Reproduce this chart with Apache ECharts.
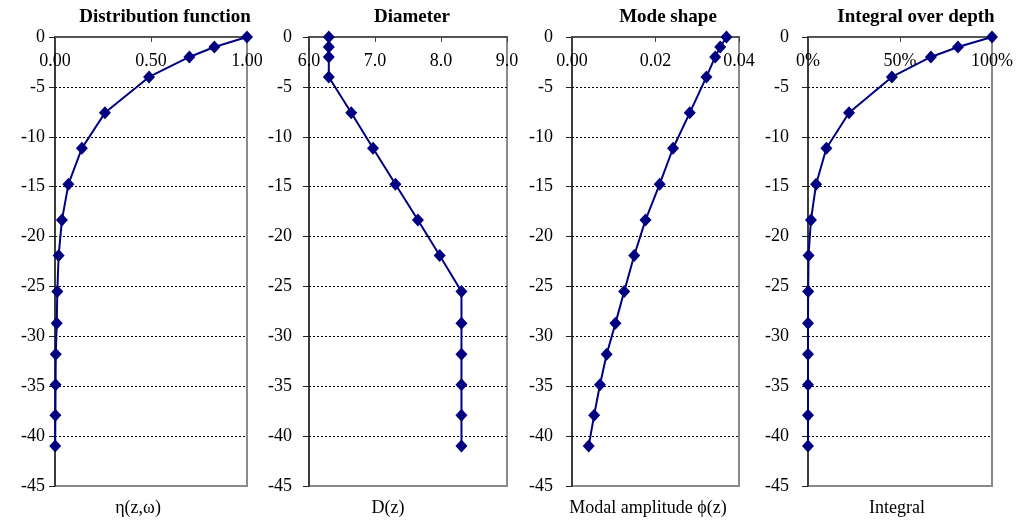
<!DOCTYPE html>
<html>
<head>
<meta charset="utf-8">
<script src="https://cdn.jsdelivr.net/npm/echarts@6/dist/echarts.min.js"></script>
<style>
html,body{margin:0;padding:0;background:#fff;}
#chart{width:1016px;height:522px;}
</style>
</head>
<body>
<div id="chart"></div>
<script>
// Data
var depth = [0, -1, -2, -4, -7.6, -11.15, -14.75, -18.35, -21.9, -25.5, -28.7, -31.8, -34.85, -37.9, -41];
var distribution = [1.0, 0.83, 0.70, 0.49, 0.26, 0.14, 0.07, 0.036, 0.019, 0.012, 0.009, 0.004, 0.003, 0.002, 0.001];
var diameter = [6.30, 6.30, 6.30, 6.30, 6.64, 6.97, 7.31, 7.65, 7.98, 8.31, 8.31, 8.31, 8.31, 8.31, 8.31];
var modeShape = [0.0370, 0.0355, 0.0343, 0.0322, 0.0282, 0.0242, 0.0210, 0.0176, 0.0149, 0.0125, 0.0104, 0.0083, 0.0067, 0.0053, 0.0040];
var integral = [1.0, 0.815, 0.668, 0.456, 0.223, 0.10, 0.044, 0.016, 0.003, 0.001, 0.0, 0.0, 0.0, 0.0, 0.0];

var panelTitles = ['Distribution function', 'Diameter', 'Mode shape', 'Integral over depth'];
var axisNames = ['\u03b7(z,\u03c9)', 'D(z)', 'Modal amplitude \u03d5(z)', 'Integral'];
var xMins = [0, 6, 0, 0];
var xMaxs = [1, 9, 0.04, 1];
var xIntervals = [0.5, 1, 0.02, 0.5];
var xFormatters = [
  function (v) { return v.toFixed(2); },
  function (v) { return v.toFixed(1); },
  function (v) { return v.toFixed(2); },
  function (v) { return Math.round(v * 100) + '%'; }
];
var yTicks = { min: -45, max: 0, interval: 5 };

// layout (pixels)
var grids = [
  { left: 55, top: 37, width: 192, height: 449 },
  { left: 309, top: 37, width: 198, height: 449 },
  { left: 572, top: 37, width: 167, height: 449 },
  { left: 808, top: 37, width: 184, height: 449 }
];
var yLabelMargins = [10, 17, 19, 19];
var titleX = [165, 412, 668, 916];
var nameX = [138, 388, 648, 897];

var FONT = '"Liberation Serif", "Times New Roman", serif';
var seriesData = [distribution, diameter, modeShape, integral];

var option = {
  backgroundColor: '#fff',
  animation: false,
  grid: grids.map(function (g) {
    return { left: g.left, top: g.top, width: g.width, height: g.height, show: true,
      borderColor: '#8a8a8a', borderWidth: 2, backgroundColor: 'transparent', containLabel: false };
  }),
  xAxis: grids.map(function (g, i) {
    return {
      gridIndex: i, type: 'value', position: 'top',
      min: xMins[i], max: xMaxs[i], interval: xIntervals[i],
      axisLine: { show: true, onZero: false, lineStyle: { color: '#444', width: 1.5 } },
      axisTick: { show: true, inside: true, length: 5, lineStyle: { color: '#444', width: 1 } },
      axisLabel: { inside: true, margin: 15, color: '#000', fontFamily: FONT, fontSize: 18,
        formatter: xFormatters[i], showMinLabel: true, showMaxLabel: true },
      splitLine: { show: false }
    };
  }),
  yAxis: grids.map(function (g, i) {
    return {
      gridIndex: i, type: 'value', min: yTicks.min, max: yTicks.max, interval: yTicks.interval,
      axisLine: { show: true, onZero: false, lineStyle: { color: '#222', width: 1.5 } },
      axisTick: { show: true, inside: false, length: 6, lineStyle: { color: '#222', width: 1 } },
      axisLabel: { margin: yLabelMargins[i], color: '#000', fontFamily: FONT, fontSize: 18 },
      splitLine: { show: true, showMinLine: false, showMaxLine: false,
        lineStyle: { color: '#000', width: 1, type: [2, 2] } }
    };
  }),
  series: seriesData.map(function (vals, i) {
    return {
      type: 'line', xAxisIndex: i, yAxisIndex: i, clip: false,
      data: vals.map(function (v, k) { return [v, depth[k]]; }),
      symbol: 'diamond', symbolSize: [12, 13], showSymbol: true,
      itemStyle: { color: '#000080' },
      lineStyle: { color: '#000080', width: 2 },
      z: 5
    };
  }),
  graphic: []
};

panelTitles.forEach(function (t, i) {
  option.graphic.push({ type: 'text', x: titleX[i], y: 17,
    style: { text: t, font: 'bold 19px ' + FONT, fill: '#000', textAlign: 'center', textVerticalAlign: 'middle' } });
});
axisNames.forEach(function (t, i) {
  option.graphic.push({ type: 'text', x: nameX[i], y: 508,
    style: { text: t, font: '18px ' + FONT, fill: '#000', textAlign: 'center', textVerticalAlign: 'middle' } });
});

var chart = echarts.init(document.getElementById('chart'), null, { renderer: 'canvas' });
chart.setOption(option);
</script>
</body>
</html>
